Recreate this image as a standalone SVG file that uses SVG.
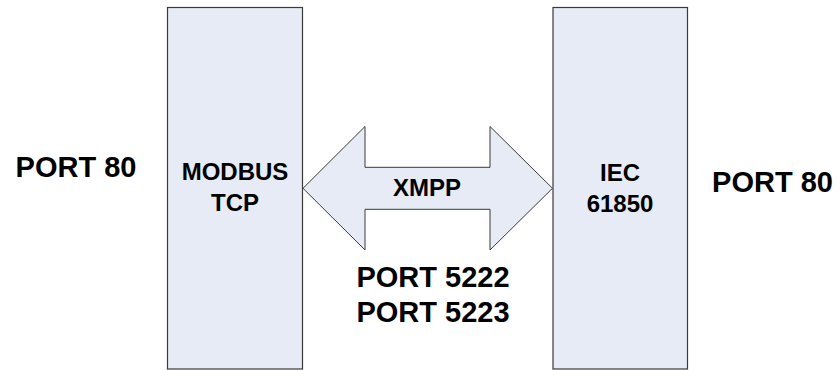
<svg xmlns="http://www.w3.org/2000/svg" width="840" height="370" viewBox="0 0 840 370">
<style>
.box{fill:#e7ebf5;stroke:#3a3a3a;stroke-width:1.2}
.arrow{fill:#e7ebf5;stroke:#3a3a3a;stroke-width:1}
text{font-family:"Liberation Sans",Arial,sans-serif;font-weight:bold;fill:#000;text-anchor:middle}
.big{font-size:29px}
.mid{font-size:24px}
</style>
<rect width="840" height="370" fill="#fff"/>
<g id="modbus">
<rect class="box" x="167.5" y="7.5" width="135" height="361.5"/>
<text class="mid" x="235" y="180">MODBUS</text>
<text class="mid" x="235" y="211">TCP</text>
</g>
<g id="iec">
<rect class="box" x="553" y="7.5" width="134.5" height="361.5"/>
<text class="mid" x="620" y="180.5">IEC</text>
<text class="mid" x="620" y="211.5">61850</text>
</g>
<g id="connectors">
<path class="arrow" d="M303,188.3 L365,126.5 L365,167.3 L490,167.3 L490,126.5 L552.5,188.3 L490,250 L490,209.3 L365,209.3 L365,250 Z"/>
<text class="mid" x="427" y="196">XMPP</text>
</g>
<g id="labels">
<text class="big" x="76" y="176.5">PORT 80</text>
<text class="big" x="772.5" y="191.5">PORT 80</text>
<text class="big" x="433" y="287">PORT 5222</text>
<text class="big" x="433" y="321.5">PORT 5223</text>
</g>
</svg>
